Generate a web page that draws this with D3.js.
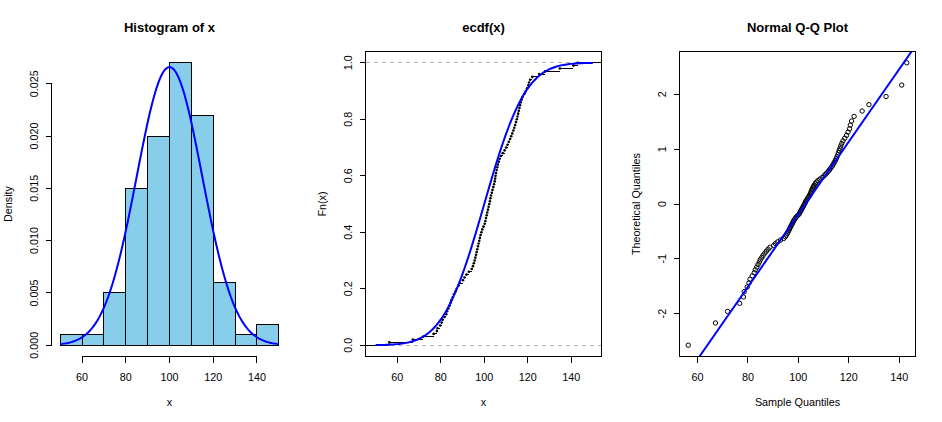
<!DOCTYPE html>
<html>
<head>
<meta charset="utf-8">
<title>hist / ecdf / qqnorm</title>
<script src="https://d3js.org/d3.v7.min.js"></script>
<style>
    body { margin: 0; background: #fff; }
    svg text { font-family: "Liberation Sans", Arial, sans-serif; fill: #000; }
</style>
</head>
<body>
<div id="chart"></div>
<script>
    // sorted sample (n = 100)
    var x = [
        56.3, 67.1, 71.9, 76.7, 78.2, 78.5, 79.7, 80.4, 80.8, 81.7,
        82.5, 82.9, 83.5, 84.0, 84.5, 84.9, 85.5, 86.0, 86.7, 87.3,
        88.0, 88.7, 90.2, 90.9, 91.8, 92.9, 94.2, 94.8, 95.2, 95.6,
        95.9, 96.2, 96.5, 96.8, 97.1, 97.4, 97.7, 98.0, 98.3, 98.7,
        99.1, 99.6, 100.2, 100.5, 100.8, 101.1, 101.4, 101.7, 102.0, 102.3,
        102.6, 102.8, 103.1, 103.5, 103.8, 104.2, 104.5, 104.8, 105.0, 105.2,
        105.4, 105.7, 106.0, 106.3, 106.7, 107.1, 107.7, 108.5, 109.4, 110.1,
        110.7, 111.3, 111.9, 112.4, 112.9, 113.4, 113.8, 114.2, 114.6, 115.0,
        115.3, 115.6, 115.9, 116.2, 116.5, 116.8, 117.2, 117.7, 118.4, 119.1,
        119.7, 120.3, 120.6, 121.1, 122.1, 125.3, 128.0, 134.8, 141.0, 143.0
    ];
    var breaks = [50, 60, 70, 80, 90, 100, 110, 120, 130, 140, 150];
    var xTicks = [60, 80, 100, 120, 140];
    var densTicks = [0, 0.005, 0.010, 0.015, 0.020, 0.025];
    var fnTicks = [0, 0.2, 0.4, 0.6, 0.8, 1.0];
    var qTicks = [-2, -1, 0, 1, 2];
    var titles = ["Histogram of x", "ecdf(x)", "Normal Q-Q Plot"];
    var mu = 100, sigma = 15;   // reference normal for the blue curves

    var W = 942, H = 422, PW = 314;
    var L = 51.5, R = 287.5, T = 51.5, B = 356.5;
    var n = x.length;

    var svg = d3.select("#chart").append("svg")
        .attr("width", W).attr("height", H);

    // R-style 4% extension of a range
    function ext(a, b) { var d = (b - a) * 0.04; return [a - d, b + d]; }

    function dnorm(v) {
        var z = (v - mu) / sigma;
        return Math.exp(-z * z / 2) / (sigma * Math.sqrt(2 * Math.PI));
    }
    function pnorm(v) {
        var z = (v - mu) / sigma / Math.SQRT2;
        var t = 1 / (1 + 0.3275911 * Math.abs(z));
        var e = 1 - (((((1.061405429 * t - 1.453152027) * t) + 1.421413741) * t - 0.284496736) * t + 0.254829592) * t * Math.exp(-z * z);
        return 0.5 * (1 + (z >= 0 ? e : -e));
    }
    // inverse normal (Acklam)
    function qnorm(p) {
        var a = [-39.69683028665376, 220.9460984245205, -275.9285104469687, 138.357751867269, -30.66479806614716, 2.506628277459239];
        var b = [-54.47609879822406, 161.5858368580409, -155.6989798598866, 66.80131188771972, -13.28068155288572];
        var c = [-0.007784894002430293, -0.3223964580411365, -2.400758277161838, -2.549732539343734, 4.374664141464968, 2.938163982698783];
        var d = [0.007784695709041462, 0.3224671290700398, 2.445134137142996, 3.754408661907416];
        var q, r;
        if (p < 0.02425) {
            q = Math.sqrt(-2 * Math.log(p));
            return (((((c[0] * q + c[1]) * q + c[2]) * q + c[3]) * q + c[4]) * q + c[5]) / ((((d[0] * q + d[1]) * q + d[2]) * q + d[3]) * q + 1);
        }
        if (p > 1 - 0.02425) return -qnorm(1 - p);
        q = p - 0.5; r = q * q;
        return (((((a[0] * r + a[1]) * r + a[2]) * r + a[3]) * r + a[4]) * r + a[5]) * q / (((((b[0] * r + b[1]) * r + b[2]) * r + b[3]) * r + b[4]) * r + 1);
    }

    // axes drawn like R: line from first to last tick, ticks outward
    function axisBottom(g, sc, ticks, fmt) {
        g.append("line").attr("x1", sc(ticks[0])).attr("x2", sc(ticks[ticks.length - 1]))
            .attr("y1", B).attr("y2", B).attr("stroke", "#000").attr("shape-rendering", "crispEdges");
        ticks.forEach(function (t) {
            g.append("line").attr("x1", sc(t)).attr("x2", sc(t)).attr("y1", B).attr("y2", B + 6)
                .attr("stroke", "#000").attr("shape-rendering", "crispEdges");
            g.append("text").attr("x", sc(t)).attr("y", B + 24).attr("text-anchor", "middle")
                .attr("font-size", "10.8px").text(fmt(t));
        });
    }
    function axisLeft(g, sc, ticks, fmt, x0) {
        g.append("line").attr("x1", x0).attr("x2", x0).attr("y1", sc(ticks[0])).attr("y2", sc(ticks[ticks.length - 1]))
            .attr("stroke", "#000").attr("shape-rendering", "crispEdges");
        ticks.forEach(function (t) {
            g.append("line").attr("x1", x0).attr("x2", x0 - 6).attr("y1", sc(t)).attr("y2", sc(t))
                .attr("stroke", "#000").attr("shape-rendering", "crispEdges");
            g.append("text").attr("transform", "translate(" + (x0 - 13.5) + "," + sc(t) + ") rotate(-90)")
                .attr("text-anchor", "middle").attr("font-size", "10.8px").text(fmt(t));
        });
    }
    function labels(g, i, xl, yl) {
        g.append("text").attr("x", (L + R) / 2).attr("y", 32.3).attr("text-anchor", "middle")
            .attr("font-size", "13px").attr("font-weight", "bold").text(titles[i]);
        g.append("text").attr("x", (L + R) / 2).attr("y", 405.5).attr("text-anchor", "middle")
            .attr("font-size", "10.8px").text(xl);
        g.append("text").attr("transform", "translate(11.5," + (T + B) / 2 + ") rotate(-90)")
            .attr("text-anchor", "middle").attr("font-size", "10.8px").text(yl);
    }
    function box(g) {
        g.append("rect").attr("x", L).attr("y", T).attr("width", R - L).attr("height", B - T)
            .attr("fill", "none").attr("stroke", "#000").attr("shape-rendering", "crispEdges");
    }
    function clip(id, g) {
        g.append("clipPath").attr("id", id).append("rect")
            .attr("x", L).attr("y", T).attr("width", R - L).attr("height", B - T);
        return "url(#" + id + ")";
    }

    var curveX = d3.range(0, 101).map(function (k) { return 50 + k; });

    // ---------- histogram ----------
    var g1 = svg.append("g");
    var bins = d3.bin().domain([breaks[0], breaks[breaks.length - 1]]).thresholds(breaks.slice(1, -1))(x);
    var dens = bins.map(function (b) { return b.length / (n * (b.x1 - b.x0)); });
    var hx = d3.scaleLinear().domain(ext(breaks[0], breaks[breaks.length - 1])).range([L, R]);
    var hy = d3.scaleLinear().domain(ext(0, d3.max(dens))).range([B, T]);

    g1.selectAll("rect.bar").data(bins).enter().append("rect")
        .attr("class", "bar")
        .attr("x", function (b) { return hx(b.x0); })
        .attr("width", function (b) { return hx(b.x1) - hx(b.x0); })
        .attr("y", function (b, i) { return hy(dens[i]); })
        .attr("height", function (b, i) { return hy(0) - hy(dens[i]); })
        .attr("fill", "#87CEEB").attr("stroke", "#000").attr("shape-rendering", "crispEdges");

    g1.append("path")
        .attr("d", d3.line().x(function (v) { return hx(v); }).y(function (v) { return hy(dnorm(v)); })(curveX))
        .attr("fill", "none").attr("stroke", "#0000FF").attr("stroke-width", 2);

    axisBottom(g1, hx, xTicks, d3.format("d"));
    axisLeft(g1, hy, densTicks, d3.format(".3f"), L);
    labels(g1, 0, "x", "Density");

    // ---------- ecdf ----------
    var g2 = svg.append("g").attr("transform", "translate(" + PW + ",0)");
    var rx = [x[0], x[n - 1]];
    var dr = Math.max(0.08 * (rx[1] - rx[0]), d3.median(d3.pairs(x, function (a, b) { return b - a; })));
    var xlim = [rx[0] - dr, rx[1] + dr];
    var ex = d3.scaleLinear().domain(ext(xlim[0], xlim[1])).range([L, R]);
    var ey = d3.scaleLinear().domain(ext(0, 1)).range([B, T]);
    var c2 = clip("clip2", g2);
    var inner2 = g2.append("g").attr("clip-path", c2);

    [0, 1].forEach(function (h) {
        inner2.append("line").attr("x1", L).attr("x2", R).attr("y1", ey(h)).attr("y2", ey(h))
            .attr("stroke", "#B3B3B3").attr("stroke-dasharray", "4,4").attr("shape-rendering", "crispEdges");
    });

    var ti = [xlim[0] - dr].concat(x, [xlim[1] + dr]);
    inner2.selectAll("line.step").data(d3.range(0, n + 1)).enter().append("line")
        .attr("class", "step")
        .attr("x1", function (i) { return ex(ti[i]); })
        .attr("x2", function (i) { return ex(ti[i + 1]); })
        .attr("y1", function (i) { return ey(i / n); })
        .attr("y2", function (i) { return ey(i / n); })
        .attr("stroke", "#000").attr("shape-rendering", "crispEdges");
    inner2.selectAll("circle").data(x).enter().append("circle")
        .attr("cx", function (v) { return ex(v); })
        .attr("cy", function (v, i) { return ey((i + 1) / n); })
        .attr("r", 1.3).attr("fill", "#000");

    inner2.append("path")
        .attr("d", d3.line().x(function (v) { return ex(v); }).y(function (v) { return ey(pnorm(v)); })(curveX))
        .attr("fill", "none").attr("stroke", "#0000FF").attr("stroke-width", 2);

    box(g2);
    axisBottom(g2, ex, xTicks, d3.format("d"));
    axisLeft(g2, ey, fnTicks, d3.format(".1f"), L);
    labels(g2, 1, "x", "Fn(x)");

    // ---------- normal Q-Q (datax) ----------
    var g3 = svg.append("g").attr("transform", "translate(" + (2 * PW) + ",0)");
    var zq = x.map(function (v, i) { return qnorm((i + 0.5) / n); });
    var qx = d3.scaleLinear().domain(ext(x[0], x[n - 1])).range([L, R]);
    var qy = d3.scaleLinear().domain(ext(zq[0], zq[n - 1])).range([B, T]);
    var c3 = clip("clip3", g3);
    var inner3 = g3.append("g").attr("clip-path", c3);

    inner3.selectAll("circle").data(x).enter().append("circle")
        .attr("cx", function (v) { return qx(v); })
        .attr("cy", function (v, i) { return qy(zq[i]); })
        .attr("r", 2.2).attr("fill", "none").attr("stroke", "#000");

    // qqline through the quartiles
    var q1 = d3.quantile(x, 0.25), q3 = d3.quantile(x, 0.75);
    var slope = (q3 - q1) / (qnorm(0.75) - qnorm(0.25));
    var icpt = q1 - slope * qnorm(0.25);
    var zl = qy.domain();
    inner3.append("line")
        .attr("x1", qx(icpt + slope * zl[0])).attr("y1", qy(zl[0]))
        .attr("x2", qx(icpt + slope * zl[1])).attr("y2", qy(zl[1]))
        .attr("stroke", "#0000FF").attr("stroke-width", 2);

    box(g3);
    axisBottom(g3, qx, xTicks, d3.format("d"));
    axisLeft(g3, qy, qTicks, function (t) { return String(t); }, L);
    labels(g3, 2, "Sample Quantiles", "Theoretical Quantiles");
</script>
</body>
</html>
